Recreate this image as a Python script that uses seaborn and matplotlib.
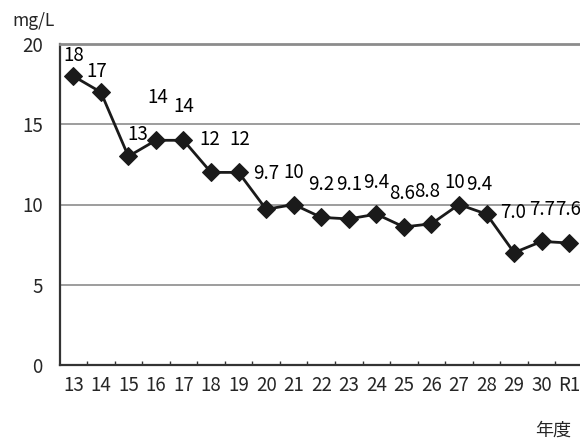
import numpy as np
import matplotlib
matplotlib.use("Agg")
import matplotlib.pyplot as plt
import seaborn as sns

# fiscal years (Heisei 13 .. Reiwa 1) and annual mean concentration (mg/L)
years = ["13", "14", "15", "16", "17", "18", "19", "20", "21", "22",
         "23", "24", "25", "26", "27", "28", "29", "30", "R1"]
values = [18, 17, 13, 14, 14, 12, 12, 9.7, 10, 9.2,
          9.1, 9.4, 8.6, 8.8, 10, 9.4, 7.0, 7.7, 7.6]
value_labels = ["18", "17", "13", "14", "14", "12", "12", "9.7", "10", "9.2",
                "9.1", "9.4", "8.6", "8.8", "10", "9.4", "7.0", "7.7", "7.6"]
y_ticks = [0, 5, 10, 15, 20]

# label offsets in points (dx, dy) relative to each marker
label_offsets = [(0, 15), (-3, 15), (7, 16), (1, 31), (0, 24), (-1, 24), (1, 24),
                 (0, 26), (0, 23), (0, 24), (0, 25), (0, 23), (-1, 24), (-3, 23),
                 (-3, 16), (-5, 21), (-1, 29), (0, 23), (-1, 24)]

sns.set_theme(style="white")
plt.rcParams["font.family"] = ["Noto Sans CJK JP", "DejaVu Sans"]

fig = plt.figure(figsize=(5.8, 4.41), dpi=100)
ax = fig.add_axes([59.5 / 580, 76 / 441, 523.5 / 580, 321 / 441])

idx = np.arange(len(years))
sns.lineplot(x=idx, y=values, ax=ax, color="#1a1a1a", linewidth=2.0,
             marker="D", markersize=9, markeredgecolor="#1a1a1a")

for i, (v, lab) in enumerate(zip(values, value_labels)):
    dx, dy = label_offsets[i]
    ax.annotate(lab, (i, v), xytext=(dx, dy), textcoords="offset points",
                ha="center", va="center", fontsize=13.5, color="black")

ax.set_xlim(-0.5, len(years) - 0.5)
ax.set_ylim(0, 20)
ax.set_yticks(y_ticks)
ax.set_yticklabels([str(t) for t in y_ticks], fontsize=13.5)
ax.set_xticks(idx)
ax.set_xticklabels(years, fontsize=13.5)
ax.set_xticks(idx[:-1] + 0.5, minor=True)
ax.tick_params(axis="x", which="major", length=0, pad=7)
ax.tick_params(axis="x", which="minor", direction="in", length=3,
               width=1, color="#333333", bottom=True)
ax.tick_params(axis="y", length=0, pad=12)

for yv in [5, 10, 15]:
    ax.axhline(yv, color="#8c8c8c", linewidth=1.2, zorder=0)

for side in ["left", "bottom"]:
    ax.spines[side].set_color("#333333")
    ax.spines[side].set_linewidth(1.6)
ax.spines["top"].set_color("#8c8c8c")
ax.spines["top"].set_linewidth(2.0)
ax.spines["right"].set_visible(False)

fig.text(34 / 580, 1 - 21 / 441, "mg/L", ha="center", va="center", fontsize=12.5)
fig.text(553 / 580, 1 - 431 / 441, "年度", ha="center", va="center", fontsize=13)

fig.savefig("out.png", dpi=100)
